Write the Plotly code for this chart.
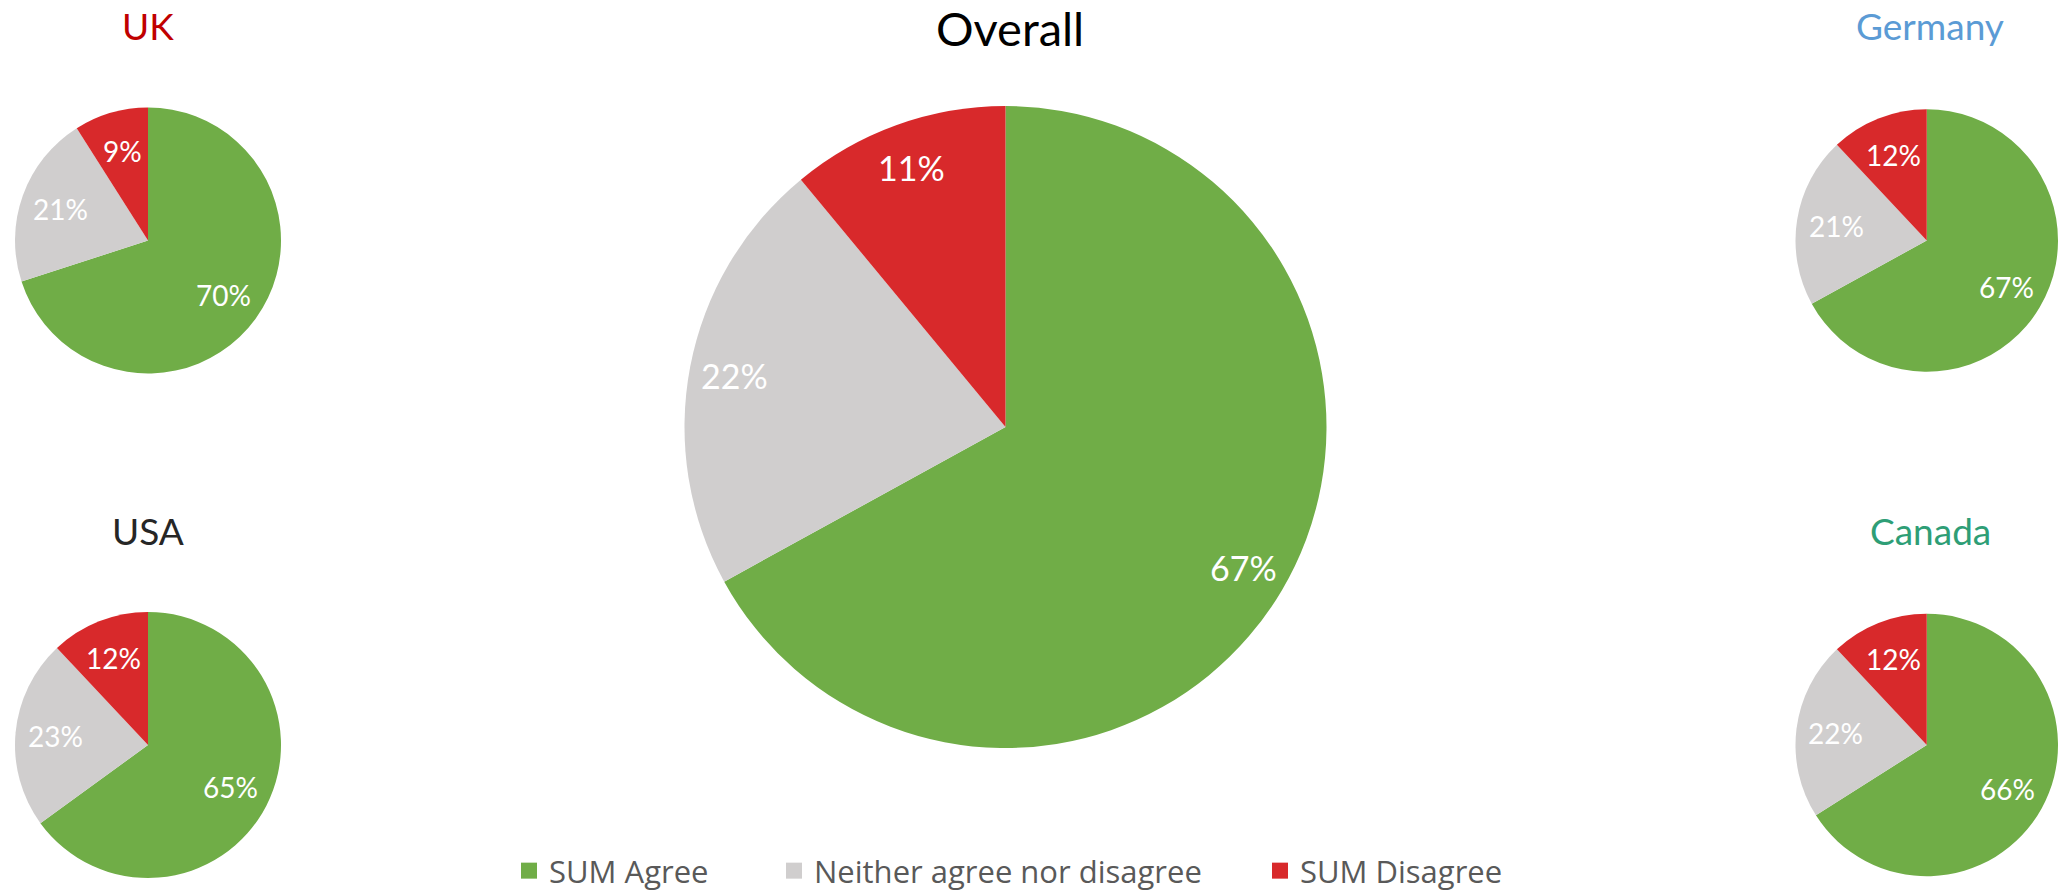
import math
import plotly.graph_objects as go

categories = ["SUM Agree", "Neither agree nor disagree", "SUM Disagree"]
colors = ["#70AD47", "#D0CECE", "#D8292B"]

overall = [67, 22, 11]
uk = [70, 21, 9]
usa = [65, 23, 12]
germany = [67, 21, 12]
canada = [66, 22, 12]

W, H = 2058, 892
LABEL_FONT = "Lato, Open Sans, sans-serif"

# (title, values, centre x px, centre y px, radius px, label radius fraction, label size)
panels = [
    ("Overall", overall, 1005.5, 427, 321, 0.86, 34),
    ("UK", uk, 148, 240.5, 133, 0.70, 28),
    ("USA", usa, 148, 745, 133, 0.70, 28),
    ("Germany", germany, 1927, 240.5, 131.5, 0.70, 28),
    ("Canada", canada, 1927, 745, 131.5, 0.70, 28),
]

fig = go.Figure()
# invisible anchor so the pixel-space axes exist
fig.add_trace(go.Scatter(x=[None], y=[None], mode="markers", showlegend=False, hoverinfo="skip"))

for name, vals, cx, cy, r, k, fs in panels:
    dom = dict(x=[(cx - r) / W, min((cx + r) / W, 1.0)],
               y=[1 - (cy + r) / H, 1 - (cy - r) / H])
    fig.add_trace(go.Pie(
        labels=categories, values=vals, name=name,
        domain=dom, sort=False, direction="clockwise", rotation=0,
        marker=dict(colors=colors, line=dict(width=0)),
        textinfo="none", showlegend=False, hoverinfo="label+value",
    ))
    # slice labels placed along each slice bisector
    total = sum(vals)
    cum = 0
    for v in vals:
        theta = math.radians((cum + v / 2) / total * 360)
        fig.add_annotation(
            x=cx + k * r * math.sin(theta), y=cy - k * r * math.cos(theta),
            xref="x", yref="y", text=f"{v}%", showarrow=False,
            xanchor="center", yanchor="middle",
            font=dict(family=LABEL_FONT, size=fs, color="white"),
        )
        cum += v

# legend entries
legend_widths = [220, 441, 220]
for cat, col, lw in zip(categories, colors, legend_widths):
    fig.add_trace(go.Scatter(
        x=[None], y=[None], mode="markers", name=cat, legendwidth=lw,
        marker=dict(symbol="square", size=20, color=col),
    ))

title_font = "Lato, sans-serif"
titles = [
    ("Overall", 1010, 28, "#000000", 47),
    ("UK", 148, 25, "#C00000", 37),
    ("USA", 148, 530, "#262626", 37),
    ("Germany", 1930, 25, "#5B9BD5", 37),
    ("Canada", 1930, 530, "#2E9E76", 37),
]
for text, x, y, col, sz in titles:
    fig.add_annotation(text=text, x=x / W, y=1 - y / H, xref="paper", yref="paper",
                       xanchor="center", yanchor="middle", showarrow=False,
                       font=dict(family=title_font, size=sz, color=col))

fig.update_layout(
    width=W, height=H,
    margin=dict(l=0, r=0, t=0, b=0, autoexpand=False),
    paper_bgcolor="white", plot_bgcolor="rgba(0,0,0,0)",
    xaxis=dict(range=[0, W], visible=False, fixedrange=True, domain=[0, 1]),
    yaxis=dict(range=[H, 0], visible=False, fixedrange=True, domain=[0, 1]),
    legend=dict(orientation="h", x=509 / W, xanchor="left", y=1 - 871 / H, yanchor="middle",
                font=dict(family="Open Sans, sans-serif", size=31, color="#595959"),
                bgcolor="rgba(0,0,0,0)", borderwidth=0),
)

fig.write_html("out.html", config={"displayModeBar": False},
               post_script="document.body.style.margin='0';")
